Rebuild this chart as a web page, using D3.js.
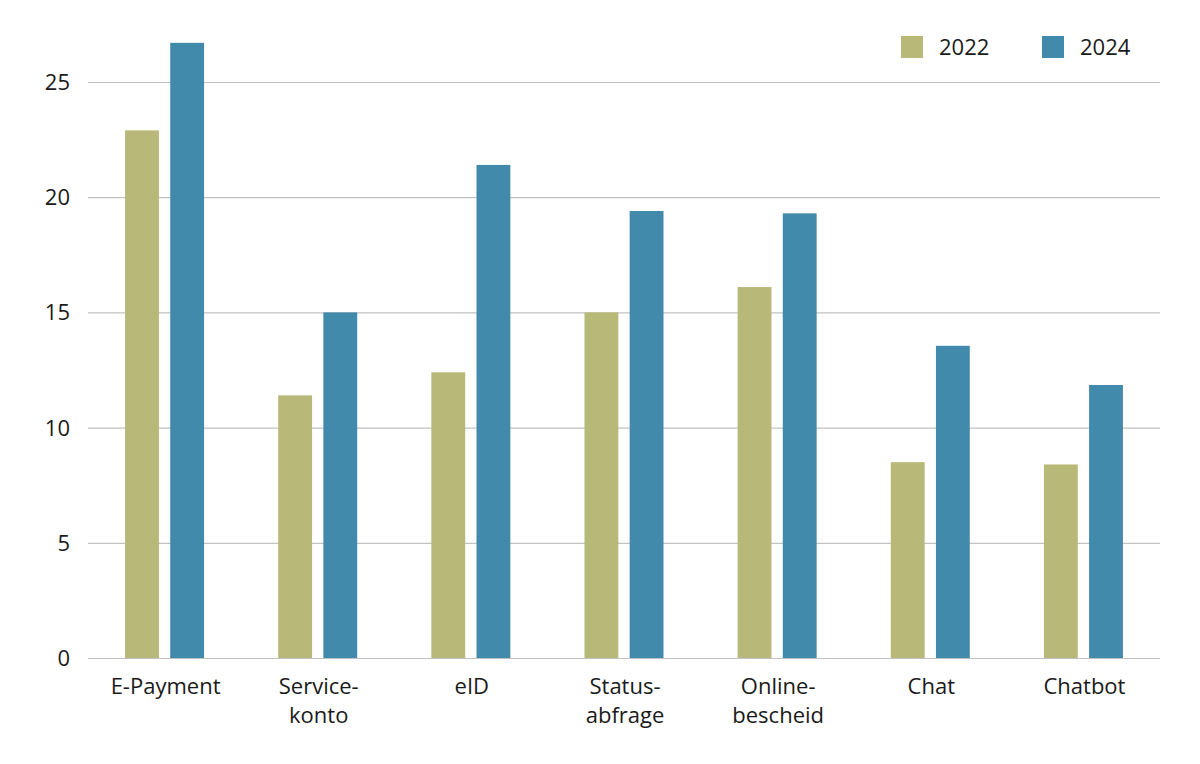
<!DOCTYPE html>
<html>
<head>
<meta charset="utf-8">
<script src="https://cdn.jsdelivr.net/npm/d3@7"></script>
<style>
  body { margin: 0; background: #fff; }
  text { font-family: "Open Sans", "Noto Sans", sans-serif; fill: #1a1a1a; }
</style>
</head>
<body>
<div id="chart"></div>
<script>
// Chart data
const categories = [["E-Payment"], ["Service-", "konto"], ["eID"], ["Status-", "abfrage"], ["Online-", "bescheid"], ["Chat"], ["Chatbot"]]
const series = ["2022", "2024"]
const values2022 = [22.9, 11.4, 12.4, 15.0, 16.1, 8.5, 8.4]
const values2024 = [26.7, 15.0, 21.4, 19.4, 19.3, 13.55, 11.85]
const yTicks = [0, 5, 10, 15, 20, 25]
const colours = ["#b8b878", "#428aab"]

function drawChart(container) {

    const WIDTH = 1200
    const HEIGHT = 764
    const PLOT = {LEFT: 88, RIGHT: 1160, TOP: 82, BOTTOM: 658}

    const catKeys = categories.map(c => c.join(""))
    const data = catKeys.map((k, i) => ({key: k, lines: categories[i], values: [values2022[i], values2024[i]]}))

    let svg = d3.select(container).append("svg")
        .attr("width", WIDTH)
        .attr("height", HEIGHT)

    // scales
    let x0 = d3.scaleBand()
        .domain(catKeys)
        .range([PLOT.LEFT, PLOT.RIGHT])

    let x1 = d3.scaleBand()
        .domain(series)
        .range([-39.5, 39.5])
        .paddingInner(0.25)

    let yScale = d3.scaleLinear()
        .domain([0, 25])
        .range([PLOT.BOTTOM, PLOT.TOP])

    // gridlines + y labels
    let yAxis = svg.append("g")
        .attr("transform", "translate(" + PLOT.LEFT + ",0)")
        .call(d3.axisLeft(yScale).tickValues(yTicks).tickSize(-(PLOT.RIGHT - PLOT.LEFT)).tickPadding(18))
    yAxis.select(".domain").remove()
    yAxis.selectAll(".tick line").attr("stroke", "#c2c2c2").attr("stroke-width", 1.2)
    yAxis.selectAll(".tick text").style("font-size", "22px").attr("dy", "0.34em")

    // bars
    let groups = svg.append("g").selectAll("g")
        .data(data)
        .join("g")
        .attr("transform", d => "translate(" + (x0(d.key) + x0.bandwidth() / 2) + ",0)")

    groups.selectAll("rect")
        .data(d => d.values.map((v, j) => ({series: series[j], value: v, j: j})))
        .join("rect")
        .attr("x", d => x1(d.series))
        .attr("width", x1.bandwidth())
        .attr("y", d => yScale(d.value))
        .attr("height", d => yScale(0) - yScale(d.value))
        .attr("fill", d => colours[d.j])

    // x labels
    let xLabels = svg.append("g").selectAll("text")
        .data(data)
        .join("text")
        .attr("text-anchor", "middle")
        .style("font-size", "22px")
        .attr("transform", d => "translate(" + (x0(d.key) + x0.bandwidth() / 2 + 1) + ",694)")
    xLabels.selectAll("tspan")
        .data(d => d.lines)
        .join("tspan")
        .attr("x", 0)
        .attr("y", (d, i) => i * 29)
        .text(d => d)

    // legend
    let legend = svg.append("g").selectAll("g")
        .data(series)
        .join("g")
        .attr("transform", (d, i) => "translate(" + (901 + i * 141) + ",36)")
    legend.append("rect")
        .attr("width", 22)
        .attr("height", 22)
        .attr("fill", (d, i) => colours[i])
    legend.append("text")
        .attr("x", 38)
        .attr("y", 19)
        .style("font-size", "22px")
        .text(d => d)
}

drawChart("#chart")
</script>
</body>
</html>
